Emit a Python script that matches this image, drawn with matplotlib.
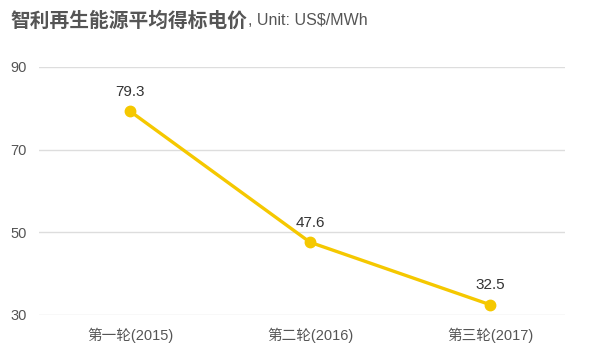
import matplotlib
matplotlib.use("Agg")
import matplotlib.pyplot as plt

categories = ["第一轮(2015)", "第二轮(2016)", "第三轮(2017)"]
values = [79.3, 47.6, 32.5]
yticks = [30, 50, 70, 90]

plt.rcParams['font.family'] = ['Noto Sans CJK SC', 'DejaVu Sans']
latin = ['Liberation Sans', 'DejaVu Sans']

fig = plt.figure(figsize=(6, 3.59), dpi=100)
ax = fig.add_axes([0.065, 0.1226, 0.8767, 0.6908])

x = list(range(len(categories)))
ax.plot(x, values, color='#F5C800', lw=2.4, marker='o', ms=7.5, zorder=3,
        solid_capstyle='round')
for xi, v in zip(x, values):
    ax.annotate(f"{v}", (xi, v), xytext=(0, 9), textcoords='offset points',
                ha='center', va='bottom', fontsize=11, color='#333333',
                family=latin)

ax.set_xlim(-0.506, 2.417)
ax.set_ylim(30, 90)
ax.set_yticks(yticks)
ax.set_yticklabels([str(t) for t in yticks], family=latin)
ax.set_xticks(x)
ax.set_xticklabels(categories)
ax.grid(axis='y', color='#dddddd', lw=1)
ax.set_axisbelow(True)
for s in ax.spines.values():
    s.set_visible(False)
ax.tick_params(axis='both', length=0, labelsize=10.5, colors='#555555')
ax.tick_params(axis='y', pad=9)
ax.tick_params(axis='x', pad=9)
for lbl in ax.get_xticklabels():
    lbl.set_family(['Liberation Sans', 'Noto Sans CJK SC'])

t1 = fig.text(10 / 600, 0.942, "智利再生能源平均得标电价", fontsize=14.2, fontweight='bold',
              color='#555555', va='center', ha='left')
fig.canvas.draw()
bb = t1.get_window_extent()
fig.text(bb.x1 / 600 + 0.001, 0.942, ", Unit: US$/MWh", fontsize=11.5, color='#555555',
         va='center', ha='left', family=latin)

fig.savefig("out.png", dpi=100)
